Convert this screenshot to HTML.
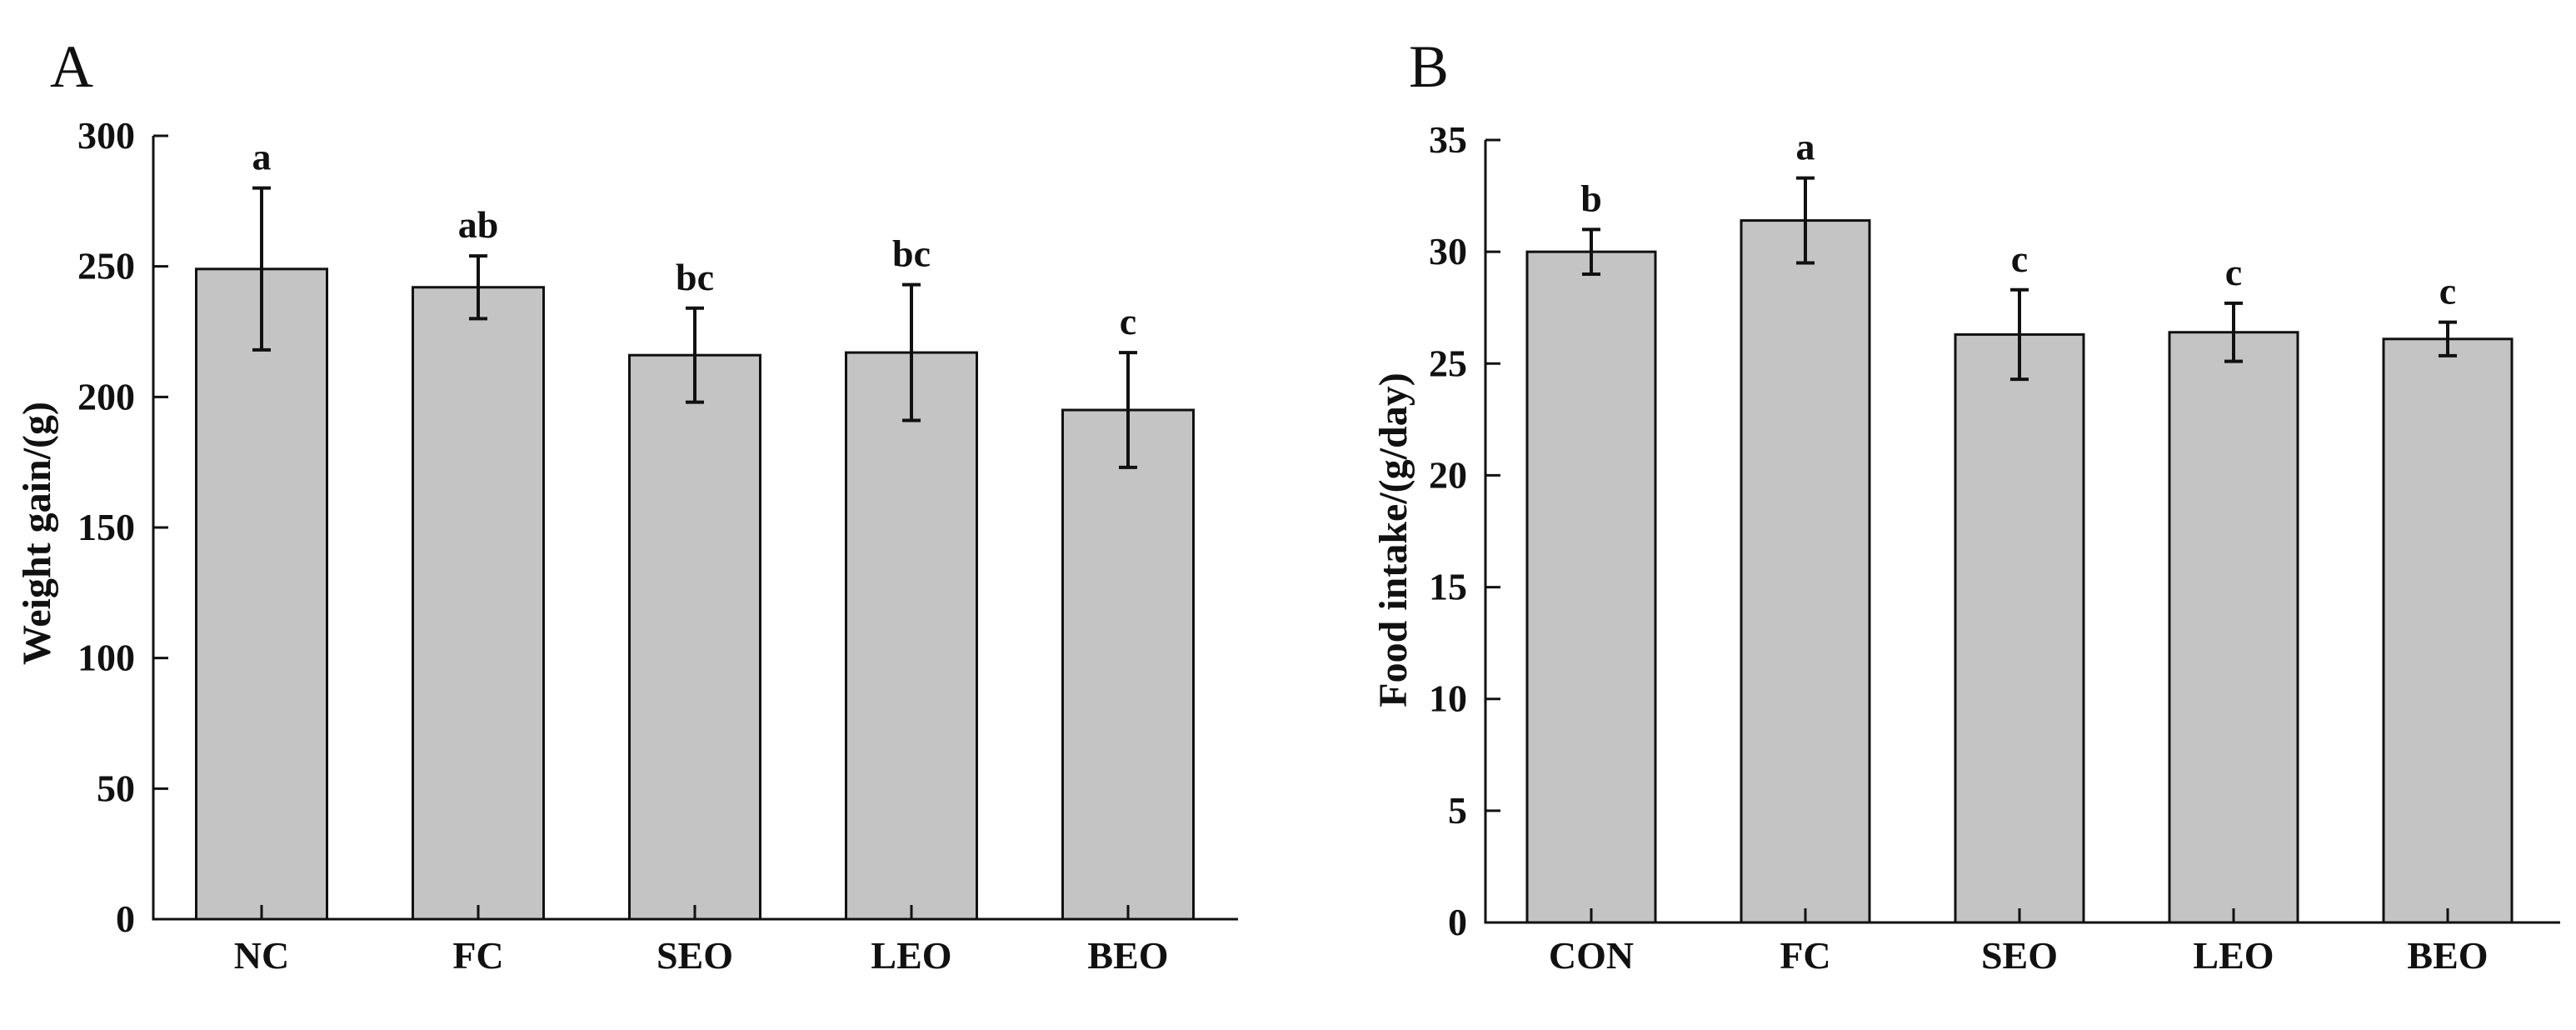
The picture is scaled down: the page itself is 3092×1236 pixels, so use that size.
<!DOCTYPE html>
<html><head><meta charset="utf-8"><style>
html,body{margin:0;padding:0;background:#fff;}
svg{display:block;}
text{font-family:"Liberation Serif",serif;fill:#111;}
</style></head><body>
<svg id="fig" width="3092" height="1236" viewBox="0 0 3092 1236" xmlns="http://www.w3.org/2000/svg">
<rect width="3092" height="1236" fill="#fff"/>
</svg>
<script>
const catsA = ["NC","FC","SEO","LEO","BEO"];
const valsA = [249,242,216,217,195];
const errA = [31,12,18,26,22];
const sigA = ["a","ab","bc","bc","c"];
const ticksA = [0,50,100,150,200,250,300];
const catsB = ["CON","FC","SEO","LEO","BEO"];
const valsB = [30,31.4,26.3,26.4,26.1];
const errB = [1.0,1.9,2.0,1.3,0.75];
const sigB = ["b","a","c","c","c"];
const ticksB = [0,5,10,15,20,25,30,35];

const NS="http://www.w3.org/2000/svg";
const svg=document.getElementById('fig');
function mk(tag,attrs,parent){const e=document.createElementNS(NS,tag);for(const k in attrs)e.setAttribute(k,attrs[k]);(parent||svg).appendChild(e);return e;}

function chart(o){
  const g=mk('g',{});
  
  
  const ymax=o.ticks[o.ticks.length-1];
  const yS=v=>o.y0-(v/ymax)*(o.y0-o.yTop);
  const xS=i=>o.x0+o.firstC+i*o.step;
  const pl=mk('text',{x:o.letterX,y:104,'font-size':72},g);pl.textContent=o.letter;
  
  
  o.vals.forEach((v,i)=>{
    const cx=xS(i);
    const r=mk('rect',{x:cx-o.bw/2,y:yS(v),width:o.bw,height:o.y0-yS(v),fill:'#c4c4c4',stroke:'#111','stroke-width':3},g);
    
    
    const hi=yS(v+o.err[i]),lo=yS(v-o.err[i]);
    const eb=mk('path',{d:`M${cx},${hi}V${lo}M${cx-11},${hi}H${cx+11}M${cx-11},${lo}H${cx+11}`,stroke:'#111','stroke-width':4,fill:'none'},g);
    
    
    const s=mk('text',{x:cx,y:hi-22,'font-size':46,'font-weight':'bold','text-anchor':'middle'},g);s.textContent=o.sig[i];
    
    
    const xt=mk('line',{x1:cx,x2:cx,y1:o.y0,y2:o.y0-17,stroke:'#111','stroke-width':3},g);
    
    
    const xl=mk('text',{x:cx,y:1162,'font-size':46,'font-weight':'bold','text-anchor':'middle'},g);xl.textContent=o.cats[i];
    
    
  });
  const ax=mk('path',{d:`M${o.x0},${o.yTop}V${o.y0}H${o.xEnd}`,stroke:'#111','stroke-width':3,fill:'none'},g);
  
  
  o.ticks.forEach(t=>{
    const y=yS(t);
    const tl=mk('line',{x1:o.x0,x2:o.x0+18,y1:y,y2:y,stroke:'#111','stroke-width':3},g);
    
    
    const tt=mk('text',{x:o.x0-22,y:y+15,'font-size':46,'font-weight':'bold','text-anchor':'end'},g);tt.textContent=t;
    
    
  });
  const yt=mk('text',{x:0,y:0,'font-size':48,'font-weight':'bold','text-anchor':'middle',transform:`translate(${o.titleX},${o.titleY}) rotate(-90)`},g);
  yt.textContent=o.title;
  
  
}
chart({name:'chart-weight-gain',letter:'A',letterX:60,cats:catsA,vals:valsA,err:errA,sig:sigA,ticks:ticksA,
  x0:184,xEnd:1486,yTop:163,y0:1103,firstC:130,step:260,bw:157,titleX:60,titleY:640,title:'Weight gain/(g)'});
chart({name:'chart-food-intake',letter:'B',letterX:1691,cats:catsB,vals:valsB,err:errB,sig:sigB,ticks:ticksB,
  x0:1783,xEnd:3073,yTop:168,y0:1107,firstC:127,step:257,bw:154,titleX:1688,titleY:648,title:'Food intake/(g/day)'});
</script>
</body></html>
